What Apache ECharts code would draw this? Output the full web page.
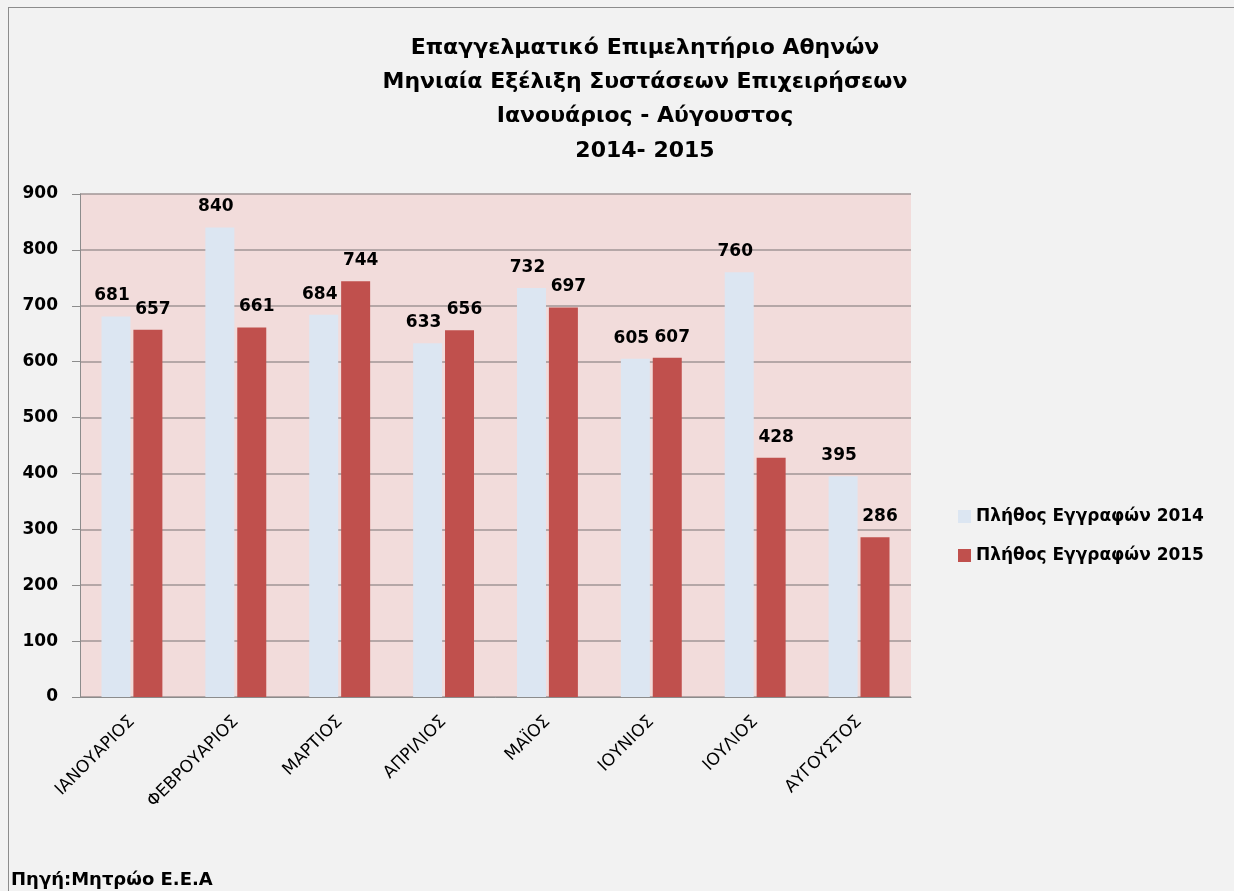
<!DOCTYPE html>
<html>
<head>
<meta charset="utf-8">
<script src="https://cdn.jsdelivr.net/npm/echarts@6/dist/echarts.min.js"></script>
<style>
html,body{margin:0;padding:0;background:#f2f2f2;}
#frame{position:absolute;left:8px;top:7px;width:1240px;height:900px;border-left:1px solid #8c8c8c;border-top:1px solid #8c8c8c;box-sizing:border-box;}
#chart{position:absolute;left:0;top:0;width:1234px;height:891px;}
</style>
</head>
<body>
<div id="frame"></div>
<div id="chart"></div>
<script>
const titleLines = ["Επαγγελματικό Επιμελητήριο Αθηνών","Μηνιαία Εξέλιξη Συστάσεων Επιχειρήσεων","Ιανουάριος - Αύγουστος","2014- 2015"];
const months = ["ΙΑΝΟΥΑΡΙΟΣ","ΦΕΒΡΟΥΑΡΙΟΣ","ΜΑΡΤΙΟΣ","ΑΠΡΙΛΙΟΣ","ΜΑΪΟΣ","ΙΟΥΝΙΟΣ","ΙΟΥΛΙΟΣ","ΑΥΓΟΥΣΤΟΣ"];
const seriesNames = ["Πλήθος Εγγραφών 2014","Πλήθος Εγγραφών 2015"];
const values2014 = [681, 840, 684, 633, 732, 605, 760, 395];
const values2015 = [657, 661, 744, 656, 697, 607, 428, 286];
const sourceText = "Πηγή:Μητρώο Ε.Ε.Α";

const FONT = "DejaVu Sans";
const chart = echarts.init(document.getElementById('chart'));
const baseLabel = {show:true, position:'top', distance:12, color:'#000', fontFamily:FONT, fontWeight:'bold', fontSize:17};
chart.setOption({
  backgroundColor:'transparent',
  animation:false,
  title:[{
    text:titleLines.join('\n'),
    left:640, top:26, textAlign:'center',
    textStyle:{fontFamily:FONT, fontSize:22, fontWeight:'bold', color:'#000', lineHeight:34.3}
  },{
    text:sourceText, left:6, top:866,
    textStyle:{fontFamily:FONT, fontSize:18, fontWeight:'bold', color:'#000'}
  }],
  legend:{
    orient:'vertical', left:953, top:503,
    itemWidth:13, itemHeight:13, itemGap:22, icon:'rect',
    textStyle:{fontFamily:FONT, fontSize:17, fontWeight:'bold', color:'#000'},
    data:seriesNames
  },
  grid:{left:80, right:323, top:194, bottom:194, show:true, backgroundColor:'#f2dcdb', borderWidth:0},
  xAxis:{
    type:'category', data:months,
    axisLine:{show:true, lineStyle:{color:'#8c8c8c', width:1}},
    axisTick:{show:false},
    axisLabel:{rotate:45, interval:0, fontFamily:FONT, fontSize:17, color:'#000', margin:22}
  },
  yAxis:{
    type:'value', min:0, max:900, interval:100,
    axisLine:{show:true, lineStyle:{color:'#8c8c8c', width:1}},
    axisTick:{show:true, inside:false, length:8, lineStyle:{color:'#8c8c8c'}},
    splitLine:{show:true, lineStyle:{color:'#a09696', width:1.5}},
    axisLabel:{fontFamily:FONT, fontSize:17, fontWeight:'bold', color:'#000', margin:22}
  },
  series:[{
    name:seriesNames[0], type:'bar', data:values2014, barWidth:29, barGap:'10%',
    itemStyle:{color:'#dce6f2'}, label:Object.assign({}, baseLabel, {offset:[-4,0]})
  },{
    name:seriesNames[1], type:'bar', data:values2015, barWidth:29,
    itemStyle:{color:'#c0504d'}, label:Object.assign({}, baseLabel, {offset:[5,0]})
  }]
});
</script>
</body>
</html>
